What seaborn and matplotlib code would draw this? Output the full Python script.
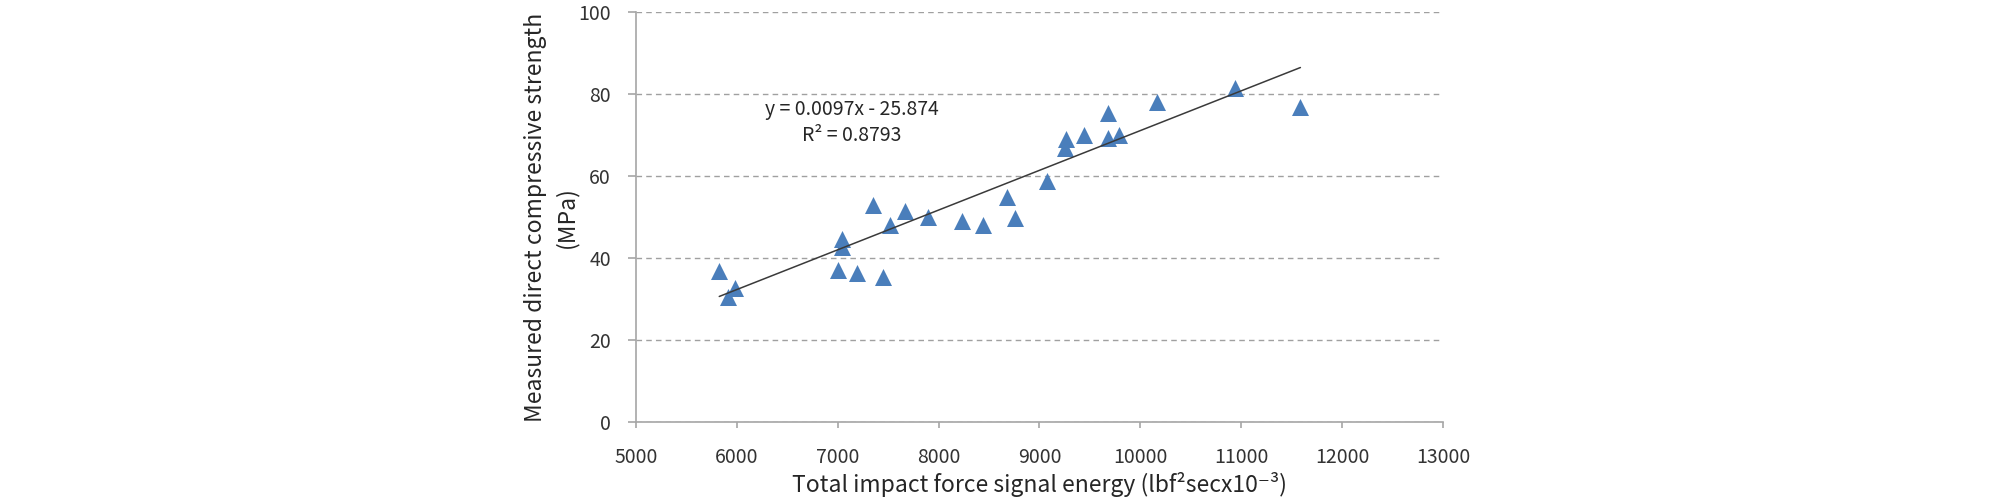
import numpy as np
import pandas as pd
import matplotlib
matplotlib.use('Agg')
import matplotlib.pyplot as plt
import seaborn as sns

# valores
energia = [5826, 5916, 5982, 7007, 7047, 7047, 7189, 7348, 7447, 7520,
           7669, 7894, 8231, 8439, 8677, 8760, 9074, 9249, 9263, 9444,
           9676, 9676, 9785, 10165, 10942, 11587]
resistencia = [36.9, 30.6, 32.6, 37.1, 44.6, 42.8, 36.3, 53.0, 35.3, 48.1,
               51.5, 50.0, 49.1, 48.1, 54.8, 49.7, 58.9, 66.8, 69.0, 70.0,
               75.5, 69.2, 70.0, 78.2, 81.6, 77.0]

# linha de tendencia (Excel)
inclinacao = 0.0097
intercepto = -25.874
r2 = 0.8793

df = pd.DataFrame({'energia': energia, 'resistencia': resistencia})

sns.set_style('white')
plt.rcParams['font.family'] = ['Noto Sans CJK KR', 'DejaVu Sans']

fig = plt.figure(figsize=(20.08, 5.04), dpi=100)
ax = fig.add_axes([0.3167, 0.1627, 0.7186 - 0.3167, 0.9756 - 0.1627])

sns.scatterplot(data=df, x='energia', y='resistencia', marker='^', s=150,
                color='#4A7EBB', edgecolor='#4A7EBB', linewidth=0, ax=ax, zorder=3)

x_linha = np.array([min(energia), max(energia)])
ax.plot(x_linha, inclinacao * x_linha + intercepto, color='#3A3A3A', lw=1.1, zorder=4)

ax.text(7140, 76.2, f'y = {inclinacao}x - {abs(intercepto)}', ha='center', va='center',
        fontsize=14, color='#262626')
ax.text(7140, 70.0, f'R² = {r2}', ha='center', va='center', fontsize=14, color='#262626')

ax.set_xlim(5000, 13000)
ax.set_ylim(0, 100)
ax.set_xticks(range(5000, 13001, 1000))
ax.set_yticks(range(0, 101, 20))
ax.yaxis.grid(True, linestyle=(0, (4, 3)), color='#A0A0A0', lw=1)
ax.xaxis.grid(False)

for lado in ['top', 'right']:
    ax.spines[lado].set_visible(False)
for lado in ['left', 'bottom']:
    ax.spines[lado].set_color('#A6A6A6')
    ax.spines[lado].set_linewidth(1.2)

ax.tick_params(axis='x', length=4, width=1.2, color='#A6A6A6', pad=14,
               labelsize=14, labelcolor='#333333', bottom=True)
ax.tick_params(axis='y', length=6, width=1.2, color='#A6A6A6', pad=12,
               labelsize=14, labelcolor='#333333', left=True)

ax.set_xlabel('Total impact force signal energy (lbf²secx10⁻³)', fontsize=16.5, labelpad=3)
ax.set_ylabel('Measured direct compressive strength\n(MPa)', fontsize=16.5,
              linespacing=1.4, labelpad=0)

plt.savefig('out.png', dpi=100)
